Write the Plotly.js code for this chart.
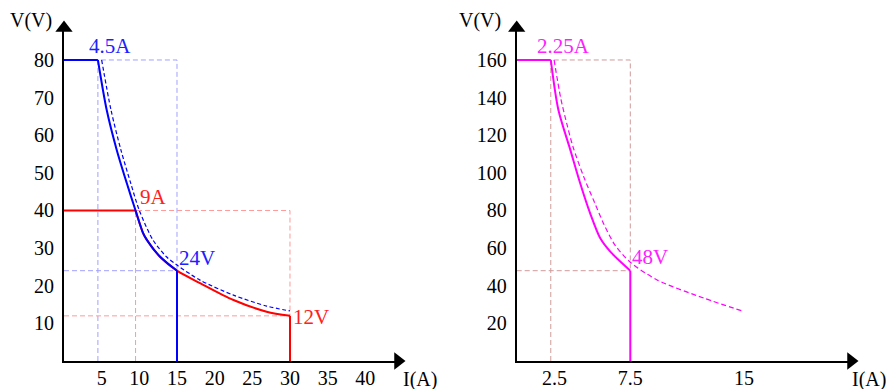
<!DOCTYPE html>
<html>
<head>
<meta charset="utf-8">
<script src="https://cdn.plot.ly/plotly-3.0.1.min.js"></script>
<style>html,body{margin:0;padding:0;background:#fff}#chart{width:890px;height:389px}</style>
</head>
<body>
<div id="chart"></div>
<script>
// ---- Left chart data (I in A, V in V) ----
var blueSolidI = [0, 4.5, 5.67, 7.0, 8.33, 9.5, 10.5, 11.0, 12.75, 15, 15];
var blueSolidV = [80, 80, 66.7, 56.1, 47.3, 40, 34, 32.2, 27.7, 24, 0];
var redSolidI = [0, 9.5, 10.5, 11.0, 12.75, 15, 18.06, 22.5, 26.9, 30, 30];
var redSolidV = [40, 40, 34, 32.2, 27.7, 24, 20.7, 16.2, 13.1, 12, 0];
var blueDashI = [5.0, 6.24, 7.57, 8.85, 10, 11.8, 13.6, 15, 18.05, 22.5, 26.9, 30];
var blueDashV = [80, 66.7, 56, 47.3, 40, 32.2, 27.7, 25.5, 21.5, 17.5, 14.6, 13.3];
var blueGuideI = [4.5, 4.5, 15, 15, null, 0, 15];
var blueGuideV = [0, 80, 80, 24, null, 24, 24];
var redGuideI = [9.5, 9.5, 30, 30, null, 0, 30];
var redGuideV = [0, 40, 40, 12, null, 12, 12];
var leftXTicks = [5, 10, 15, 20, 25, 30, 35, 40];
var leftYTicks = [10, 20, 30, 40, 50, 60, 70, 80];

// ---- Right chart data ----
var magSolidI = [0, 2.25, 2.75, 3.53, 4.19, 4.85, 5.52, 6.18, 7.5, 7.5];
var magSolidV = [160, 160, 133.5, 112.5, 94.5, 78.5, 65.2, 58.1, 48, 0];
var magDashI = [2.47, 2.9, 3.31, 3.71, 4.42, 5.1, 5.74, 6.5, 7.5, 9.27, 12.36, 15.0];
var magDashV = [160, 140, 126, 114, 98, 85, 73, 61.5, 52.5, 43.1, 33.4, 26.3];
var magGuideI = [2.25, 2.25, 7.5, 7.5, null, 0, 7.5];
var magGuideV = [0, 160, 160, 48, null, 48, 48];
var rightXTicks = [2.5, 7.5, 15];
var rightYTicks = [20, 40, 60, 80, 100, 120, 140, 160];

var leftXMax = 44.34, leftYMax = 88.5;
var rightXMax = 22.07, rightYMax = 177.0;

var serif = 'Liberation Serif, Times New Roman, serif';
function ln(x, y, color, width, dash, xa, ya, spline) {
  return {x: x, y: y, mode: 'lines', xaxis: xa, yaxis: ya, hoverinfo: 'skip', cliponaxis: false,
    line: {color: color, width: width, dash: dash || 'solid', shape: spline ? 'spline' : 'linear', smoothing: 0.8},
    connectgaps: false};
}
// solid curve: flat start, curved middle (spline), vertical drop
function stepCurve(I, V, color, xa, ya) {
  var n = I.length;
  return [
    ln(I.slice(0, 2), V.slice(0, 2), color, 2, null, xa, ya, false),
    ln(I.slice(1, n - 1), V.slice(1, n - 1), color, 2, null, xa, ya, true),
    ln(I.slice(n - 2), V.slice(n - 2), color, 2, null, xa, ya, false)
  ];
}
function arrow(xv, yv, sym, xa, ya) {
  return {x: [xv], y: [yv], mode: 'markers', xaxis: xa, yaxis: ya, cliponaxis: false, hoverinfo: 'skip',
    marker: {symbol: sym, size: 15, color: '#000', line: {width: 0}}};
}
var traces = [].concat(
  [ln(blueGuideI, blueGuideV, '#a0a0ff', 1, '5px,3px', 'x', 'y'),
   ln(redGuideI, redGuideV, '#ff9a9a', 1, '5px,3px', 'x', 'y'),
   ln(blueDashI, blueDashV, '#0000ff', 1.2, '4px,2.5px', 'x', 'y', true)],
  stepCurve(redSolidI, redSolidV, '#ff0000', 'x', 'y'),
  stepCurve(blueSolidI, blueSolidV, '#0000ff', 'x', 'y'),
  [ln(magGuideI, magGuideV, '#d09a9a', 1, '5px,3px', 'x2', 'y2'),
   ln(magDashI, magDashV, '#ff00ff', 1.2, '5px,3px', 'x2', 'y2', true)],
  stepCurve(magSolidI, magSolidV, '#ff00ff', 'x2', 'y2'),
  [arrow(0, leftYMax, 'triangle-up', 'x', 'y'),
   arrow(leftXMax, 0, 'triangle-right', 'x', 'y'),
   arrow(0, rightYMax, 'triangle-up', 'x2', 'y2'),
   arrow(rightXMax, 0, 'triangle-right', 'x2', 'y2')]
);

var tickFont = {family: serif, size: 20, color: '#000'};
function xax(domain, range, ticks) {
  return {domain: domain, range: range, tickvals: ticks, ticktext: ticks.map(String), ticks: '',
    showgrid: false, zeroline: false, showline: true, linecolor: '#000', linewidth: 2,
    tickfont: tickFont, ticklabelstandoff: -2, fixedrange: true};
}
function yax(domain, range, ticks, anchor) {
  return {domain: domain, range: range, tickvals: ticks, ticktext: ticks.map(String), ticks: '',
    showgrid: false, zeroline: false, showline: true, linecolor: '#000', linewidth: 2,
    tickfont: tickFont, ticklabelstandoff: 4, anchor: anchor, fixedrange: true};
}
var W = 890, H = 389;
var yDom = [(H - 361) / H, (H - 28) / H];
function lab(text, x, y, color, xa, ya, dx, dy) {
  return {text: text, x: x, y: y, xref: xa, yref: ya, showarrow: false, xshift: dx, yshift: dy,
    xanchor: 'center', yanchor: 'middle', font: {family: serif, size: 21, color: color}};
}
function ptitle(text, px, py) {
  return {text: text, x: px / W, y: (H - py) / H, xref: 'paper', yref: 'paper', showarrow: false,
    xanchor: 'center', yanchor: 'middle', font: {family: serif, size: 20, color: '#000'}};
}
var layout = {
  width: W, height: H, margin: {l: 0, r: 0, t: 0, b: 0},
  paper_bgcolor: '#fff', plot_bgcolor: '#fff', showlegend: false,
  xaxis: xax([64 / W, 398 / W], [0, leftXMax], leftXTicks),
  yaxis: yax(yDom, [0, leftYMax], leftYTicks, 'x'),
  xaxis2: Object.assign(xax([516.7 / W, 851 / W], [0, rightXMax], rightXTicks), {anchor: 'y2'}),
  yaxis2: yax(yDom, [0, rightYMax], rightYTicks, 'x2'),
  annotations: [
    lab('4.5A', blueSolidI[1], blueSolidV[1], '#2020ff', 'x', 'y', 12, 14),
    lab('9A', redSolidI[1], redSolidV[1], '#ff2020', 'x', 'y', 18, 13),
    lab('24V', blueSolidI[9], blueSolidV[9], '#2020ff', 'x', 'y', 20, 13),
    lab('12V', redSolidI[9], redSolidV[9], '#ff2020', 'x', 'y', 21, -1),
    lab('2.25A', magSolidI[1], magSolidV[1], '#ff20ff', 'x2', 'y2', 13, 14),
    lab('48V', magSolidI[8], magSolidV[8], '#ff20ff', 'x2', 'y2', 20, 14),
    ptitle('V(V)', 31, 21),
    ptitle('I(A)', 420, 379),
    ptitle('V(V)', 480, 21),
    ptitle('I(A)', 869, 379)
  ]
};
Plotly.newPlot('chart', traces, layout, {staticPlot: true, displayModeBar: false});
</script>
</body>
</html>
